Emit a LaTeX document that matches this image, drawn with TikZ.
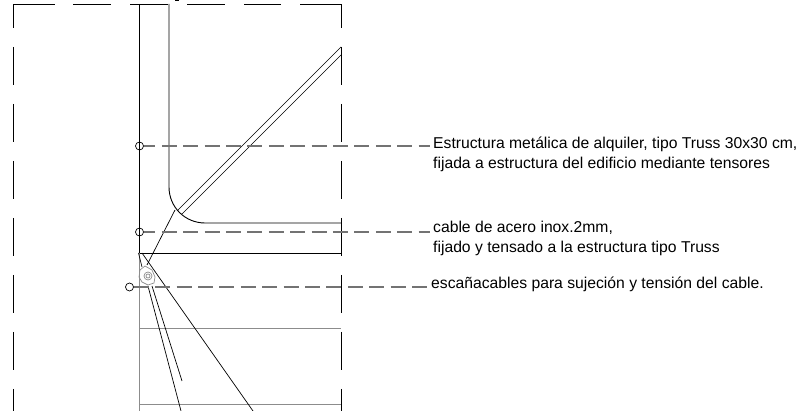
\documentclass[tikz,border=0pt]{standalone}
\usepackage{fontspec}
\setmainfont{Liberation Sans}
\tikzset{
  trussline/.style={black,line width=0.9pt},
  greyline/.style={black!45,line width=1pt},
  cableline/.style={black,line width=0.7pt},
  frameline/.style={black,line width=0.9pt},
  frametrim/.style={frameline,dash pattern=on 38pt off 19pt},
  leaderline/.style={black!55,line width=1.3pt,dash pattern=on 15pt off 6.4pt,shorten >=3pt},
  clampline/.style={black!45,line width=0.7pt},
  dotnode/.style={circle,draw=black,line width=0.7pt,minimum size=8pt,inner sep=0pt},
  notenode/.style={anchor=west,align=left,inner sep=0pt,font=\fontsize{15.7}{20}\selectfont}
}
\begin{document}
\begin{tikzpicture}[x=1pt,y=-1pt]
  \useasboundingbox (0,0) rectangle (801,411);
  % frame
  \draw[frameline] (13,28) -- (13,4) -- (55,4);
  \draw[frameline] (300,4) -- (341,4) -- (341,28);
  \draw[frametrim] (73,4) -- (281,4);
  \draw[frametrim] (13,47) -- (13,411);
  \draw[frametrim] (341,47) -- (341,411);
  \draw[frameline] (175,0.5) -- (179,0.5);
  % truss
  \draw[trussline] (139,4) -- (139,253) -- (341,253);
  \draw[trussline] (169,4) -- (169,187) .. controls (169,207) and (185,223) .. (205,223) -- (341,223);
  \draw[cableline] (341,47) -- (177,211);
  \draw[cableline] (341,55) -- (182,214);
  % lower bay
  \draw[greyline] (139,253) -- (139,411);
  \draw[greyline] (139,329) -- (341,329);
  \draw[greyline] (139,405) -- (341,405);
  % cables
  \draw[cableline] (175,210) -- (147,265);
  \draw[cableline] (138.5,253) -- (142,267);
  \draw[cableline] (142,253) -- (253,411);
  \draw[cableline] (148,286) -- (181,411);
  \draw[cableline] (152,286) -- (182,381);
  \draw[clampline] (145,266) -- (140,270) -- (139,277) -- (142,282) -- (148,285) -- (154,283) -- (155,277) -- (152,270) -- cycle;
  \draw[clampline] (148,276) circle[radius=4pt];
  \draw[clampline] (148,276) circle[radius=2pt];
  % notes
  \node[dotnode] (dotA) at (139.5,146) {};
  \node[dotnode] (dotB) at (139.5,232) {};
  \node[dotnode] (dotC) at (129.5,287) {};
  \node[notenode] (noteA) at (433,154.2) {Estructura metálica de alquiler, tipo Truss 30x30 cm,\\fijada a estructura del edificio mediante tensores};
  \node[notenode] (noteB) at (433,238.2) {cable de acero inox.2mm,\\fijado y tensado a la estructura tipo Truss};
  \node[notenode] (noteC) at (431,284.2) {escañacables para sujeción y tensión del cable.};
  \draw[leaderline,dash phase=3.5pt] (dotA.east) -- (noteA.west |- dotA.east);
  \draw[leaderline,dash phase=3.5pt] (dotB.east) -- (noteB.west |- dotB.east);
  \draw[leaderline] (dotC.east) -- (noteC.west |- dotC.east);
\end{tikzpicture}
\end{document}
